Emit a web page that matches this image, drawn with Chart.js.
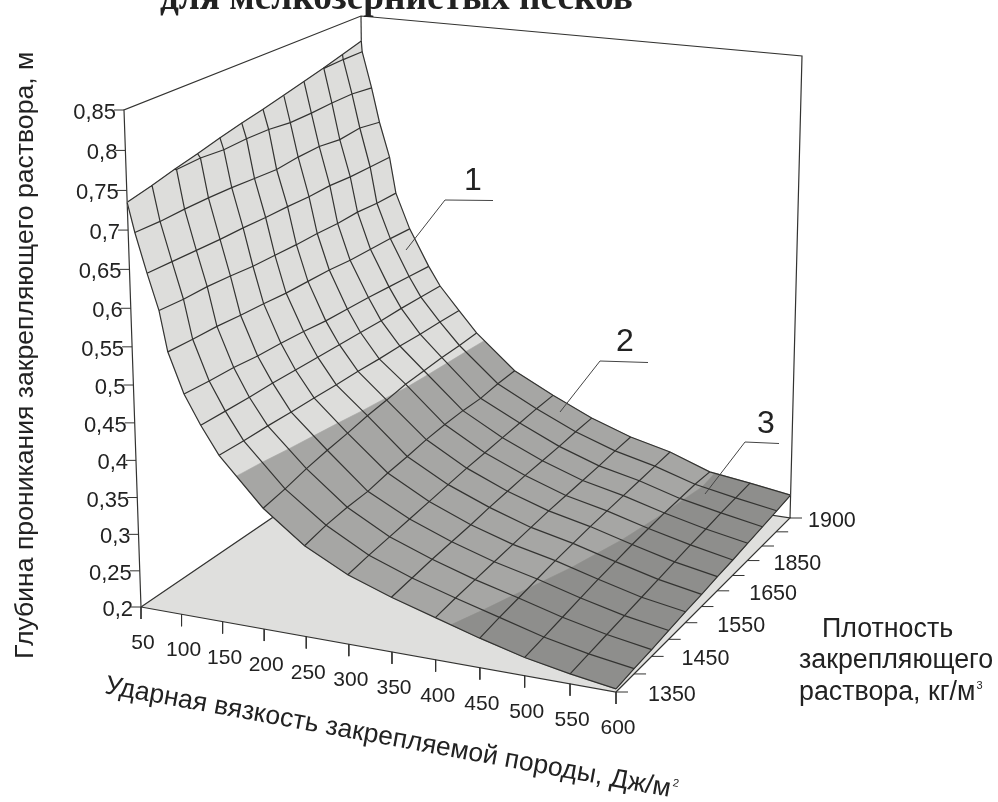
<!DOCTYPE html>
<html>
<head>
<meta charset="utf-8">
<title>Глубина проникания</title>
<script src="https://cdn.jsdelivr.net/npm/chart.js@4"></script>
<style>
  html, body { margin: 0; padding: 0; background: #fff; }
  canvas { display: block; }
</style>
</head>
<body>
<canvas id="chartscreen" width="998" height="802"></canvas>
<script>
// axis values
const impactTicks = [50, 100, 150, 200, 250, 300, 350, 400, 450, 500, 550, 600];
const densityTicks = ["1350", "", "1450", "", "1550", "", "1650", "", "1850", "", "", "1900"];
const depthTicks = [0.2, 0.25, 0.3, 0.35, 0.4, 0.45, 0.5, 0.55, 0.6, 0.65, 0.7, 0.75, 0.8, 0.85];

// the mesh rows are slanted: impact value of each row at density 1350 and at 1900
const impactFront = [50, 50, 50, 58, 71, 84, 93, 111, 130, 151, 202, 250, 300, 350, 400, 450, 500, 550, 600];
const impactBack = [50, 51, 63, 73, 86, 94, 112, 137, 152, 177, 200, 250, 300, 350, 400, 450, 500, 550, 600];

// depth read per mesh row for the 12 density lines
const depth = [
  [.735, .742, .750, .757, .765, .772, .778, .785, .792, .799, .807, .815],
  [.735, .742, .750, .757, .765, .772, .778, .785, .792, .799, .800, .800],
  [.735, .742, .750, .752, .750, .752, .752, .749, .750, .752, .753, .750],
  [.698, .698, .700, .701, .701, .700, .699, .703, .705, .702, .706, .702],
  [.648, .648, .648, .648, .649, .649, .650, .650, .652, .651, .652, .653],
  [.602, .601, .602, .601, .599, .599, .599, .600, .600, .602, .601, .602],
  [.550, .550, .551, .550, .550, .549, .550, .551, .550, .551, .552, .552],
  [.498, .498, .499, .498, .499, .499, .498, .499, .500, .500, .500, .500],
  [.460, .461, .462, .464, .465, .466, .467, .468, .469, .471, .472, .473],
  [.424, .425, .427, .428, .430, .431, .433, .434, .436, .437, .439, .440],
  [.363, .369, .377, .383, .388, .394, .398, .403, .405, .407, .408, .410],
  [.322, .329, .333, .335, .341, .345, .350, .353, .355, .355, .359, .361],
  [.293, .298, .302, .306, .310, .314, .318, .321, .324, .327, .330, .332],
  [.273, .277, .281, .284, .287, .291, .294, .297, .299, .301, .304, .306],
  [.256, .260, .263, .266, .269, .272, .275, .277, .279, .281, .284, .286],
  [.239, .244, .248, .252, .256, .259, .262, .264, .266, .268, .270, .272],
  [.224, .228, .232, .236, .240, .243, .246, .248, .250, .251, .252, .251],
  [.213, .216, .219, .222, .225, .228, .231, .234, .236, .239, .241, .243],
  [.204, .207, .209, .212, .215, .217, .220, .222, .225, .228, .231, .234]
];
// depth levels where the surface changes colour
const levels = [0.4, 0.25];

const lineColor = "#333331";
const bandColors = ["#dddddb", "#a6a6a4", "#8e8e8c"];
const floorColor = "#dfdfdd";

// box corners on the picture (floor and top), used for the perspective
function homography(p) {
    const dx1 = p[1][0] - p[2][0], dx2 = p[3][0] - p[2][0], dx3 = p[0][0] - p[1][0] + p[2][0] - p[3][0];
    const dy1 = p[1][1] - p[2][1], dy2 = p[3][1] - p[2][1], dy3 = p[0][1] - p[1][1] + p[2][1] - p[3][1];
    const den = dx1 * dy2 - dx2 * dy1;
    const g = (dx3 * dy2 - dx2 * dy3) / den;
    const h = (dx1 * dy3 - dx3 * dy1) / den;
    const a = p[1][0] - p[0][0] + g * p[1][0], b = p[3][0] - p[0][0] + h * p[3][0];
    const d = p[1][1] - p[0][1] + g * p[1][1], e = p[3][1] - p[0][1] + h * p[3][1];
    return function (s, t) {
        const q = g * s + h * t + 1;
        return [(a * s + b * t + p[0][0]) / q, (d * s + e * t + p[0][1]) / q];
    };
}
const floorMap = homography([[141, 607], [616, 692], [790, 518], [366, 454]]);
const topMap = homography([[124, 110], [620, 163], [802, 56], [361, 16]]);

// impact value, density line index, depth -> chart x/y
function project(u, j, z) {
    const s = (u - 50) / 550, t = j / 11;
    const w = (z - 0.2) / 0.65;
    const k = w / (w + 1.062 * (1 - w));
    const f = floorMap(s, t), c = topMap(s, t);
    return { x: f[0] + (c[0] - f[0]) * k, y: f[1] + (c[1] - f[1]) * k };
}

function node(i, j) {
    const u = impactFront[i] + (impactBack[i] - impactFront[i]) * j / 11;
    return { u: u, j: j, z: depth[i][j] };
}
function nodePoint(i, j) {
    const n = node(i, j);
    return project(n.u, n.j, n.z);
}

// keep the part of a cell below a depth level
function clipBelow(poly, level) {
    const out = [];
    for (let i = 0; i < poly.length; i++) {
        const a = poly[i], b = poly[(i + 1) % poly.length];
        if (a.z <= level) out.push(a);
        if ((a.z <= level) != (b.z <= level)) {
            const r = (level - a.z) / (b.z - a.z);
            out.push({ u: a.u + (b.u - a.u) * r, j: a.j + (b.j - a.j) * r, z: level });
        }
    }
    return out;
}

const datasets = [];

function addLine(points, color, width) {
    datasets.push({ data: points, borderColor: color, borderWidth: width, pointRadius: 0, showLine: true, fill: false, tension: 0 });
}
function addShape(points, color, edge, width) {
    datasets.push({ data: points.concat([points[0]]), backgroundColor: color, borderColor: edge, borderWidth: width, pointRadius: 0, showLine: true, fill: "shape", tension: 0 });
}

// back of the box
const p = project;
addLine([p(50, 0, 0.2), p(50, 0, 0.85), p(50, 11, 0.85), p(600, 11, 0.85), p(600, 11, 0.2)], lineColor, 1.2);
addLine([p(50, 11, 0.85), p(50, 11, 0.2)], lineColor, 1.2);

// floor
addShape([p(50, 0, 0.2), p(600, 0, 0.2), p(600, 11, 0.2), p(50, 11, 0.2)], floorColor, lineColor, 1.2);

// ticks
depthTicks.forEach(function (z) {
    const a = p(50, 0, z);
    addLine([a, { x: a.x - 10, y: a.y }], lineColor, 1);
});
impactTicks.forEach(function (u) {
    const a = p(u, 0, 0.2);
    addLine([a, { x: a.x, y: a.y + 12 }], lineColor, 1);
});
densityTicks.forEach(function (label, j) {
    const a = p(600, j, 0.2);
    addLine([a, { x: a.x + 12, y: a.y }], lineColor, 1);
});

// surface cells, one colour pass per band
[null, levels[0], levels[1]].forEach(function (level, band) {
    for (let i = 0; i < depth.length - 1; i++) {
        for (let j = 10; j >= 0; j--) {
            let poly = [node(i, j), node(i + 1, j), node(i + 1, j + 1), node(i, j + 1)];
            if (level != null) poly = clipBelow(poly, level);
            if (poly.length < 3) continue;
            const pts = poly.map(function (v) { return p(v.u, v.j, v.z); });
            addShape(pts, bandColors[band], bandColors[band], 0.6);
        }
    }
});

// mesh lines: the two top rows run along the upper edge for most of their length
depth.forEach(function (row, i) {
    const from = i == 1 ? 9 : (i == 2 ? 2 : 0);
    const pts = [];
    for (let j = from; j < 12; j++) pts.push(nodePoint(i, j));
    addLine(pts, lineColor, 1.2);
});
for (let j = 0; j < 12; j++) {
    addLine(depth.map(function (row, i) { return nodePoint(i, j); }), lineColor, 1.2);
}

// numbered leaders
addLine([{ x: 406, y: 250 }, { x: 445, y: 200 }, { x: 493, y: 200.5 }], "#444", 1);
addLine([{ x: 560, y: 412 }, { x: 600, y: 361 }, { x: 648, y: 362.5 }], "#444", 1);
addLine([{ x: 705, y: 494 }, { x: 745, y: 442 }, { x: 779, y: 443.5 }], "#444", 1);

// chart draws the first dataset on top
datasets.reverse();

const textPlugin = {
    id: "textPlugin",
    afterDraw: function (chart) {
        const ctx = chart.ctx;
        const sx = chart.scales.x, sy = chart.scales.y;
        // sup: small exponent written right after the text
        function text(str, x, y, font, align, angle, sup) {
            ctx.save();
            ctx.translate(sx.getPixelForValue(x), sy.getPixelForValue(y));
            ctx.rotate((angle || 0) * Math.PI / 180);
            ctx.font = font;
            ctx.fillStyle = "#222";
            ctx.textAlign = align || "left";
            ctx.textBaseline = "alphabetic";
            ctx.fillText(str, 0, 0);
            if (sup) {
                const w = ctx.measureText(str).width;
                ctx.font = "11px Liberation Sans";
                ctx.fillText(sup, w + 1, -11);
            }
            ctx.restore();
        }
        const sans = "Liberation Sans";
        text("для мелкозернистых песков", 160, 9, "bold 37.3px Liberation Serif");

        depthTicks.forEach(function (z) {
            const a = p(50, 0, z);
            text(String(z).replace(".", ","), a.x - 8, a.y + 9, "22px " + sans, "right");
        });
        impactTicks.forEach(function (u) {
            const a = p(u, 0, 0.2);
            text(String(u), a.x + 2, a.y + 42, "21px " + sans, "center");
        });
        const labelGap = [32, 0, 30, 0, 32, 0, 32, 0, 26, 0, 0, 18];
        densityTicks.forEach(function (label, j) {
            if (label == "") return;
            const a = p(600, j, 0.2);
            text(label, a.x + labelGap[j], a.y + 9, "21.5px " + sans);
        });

        text("Глубина проникания закрепляющего раствора, м", 33, 659, "26.6px " + sans, "left", -90);
        text("Ударная вязкость закрепляемой породы, Дж/м", 104, 693, "26.5px " + sans, "left", 10.4, "2");

        text("Плотность", 822, 637, "26.8px " + sans);
        text("закрепляющего", 799, 668, "26.8px " + sans);
        text("раствора, кг/м", 799, 700, "26.8px " + sans, "left", 0, "3");

        text("1", 464, 190, "32px " + sans);
        text("2", 616, 351, "32px " + sans);
        text("3", 757, 433, "32px " + sans);
    }
};

new Chart(document.getElementById("chartscreen"), {
    type: "scatter",
    data: { datasets: datasets },
    options: {
        responsive: false,
        animation: false,
        layout: { padding: 0 },
        plugins: { legend: { display: false }, tooltip: { enabled: false } },
        scales: {
            x: { type: "linear", min: 0, max: 998, display: false },
            y: { type: "linear", min: 0, max: 802, reverse: true, display: false }
        }
    },
    plugins: [textPlugin]
});
</script>
</body>
</html>
